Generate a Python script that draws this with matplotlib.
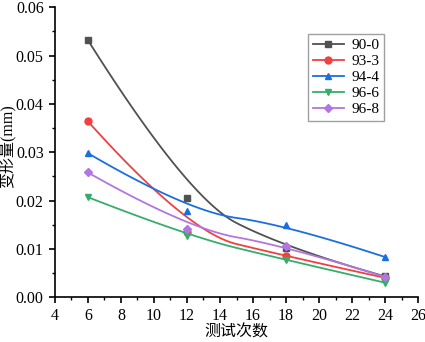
import numpy as np
import matplotlib.pyplot as plt
from matplotlib.ticker import MultipleLocator

x = np.array([6, 12, 18, 24])
s90_0 = [0.0532, 0.0206, 0.0101, 0.0043]
s93_3 = [0.0364, 0.0135, 0.0085, 0.0040]
s94_4 = [0.0298, 0.0178, 0.0150, 0.0083]
s96_6 = [0.0207, 0.0127, 0.0077, 0.0030]
s96_8 = [0.0258, 0.0142, 0.0106, 0.0042]

labels = ['90-0', '93-3', '94-4', '96-6', '96-8']
colors = ['#515151', '#F14040', '#1A6FDF', '#37AD6B', '#B177DE']
markers = ['s', 'o', '^', 'v', 'D']


def bspline2(px, py, n=60):
    # clamped quadratic B-spline, data points used as control points
    P = np.column_stack([px, py]).astype(float)
    segs = []
    m = len(P)
    for i in range(m - 2):
        a = P[i] if i == 0 else (P[i] + P[i + 1]) / 2
        b = P[i + 1]
        c = P[i + 2] if i == m - 3 else (P[i + 1] + P[i + 2]) / 2
        s = np.linspace(0, 1, n)[:, None]
        segs.append((1 - s) ** 2 * a + 2 * s * (1 - s) * b + s ** 2 * c)
    out = np.vstack(segs)
    return out[:, 0], out[:, 1]


plt.rcParams['font.family'] = ['Liberation Serif', 'Noto Sans CJK SC']
plt.rcParams['font.size'] = 11.5

fig = plt.figure(figsize=(4.25, 3.42), dpi=100)
ax = fig.add_axes([0.129, 0.131, 0.855, 0.848])

for ys, lab, c, m in zip([s90_0, s93_3, s94_4, s96_6, s96_8], labels, colors, markers):
    bx, by = bspline2(x, ys)
    ms = 5 if m != 'D' else 4.5
    ax.plot(bx, by, color=c, lw=1.3)
    ax.plot(x, ys, ls='none', marker=m, color=c, ms=ms)
    ax.plot([], [], color=c, lw=1.3, marker=m, ms=ms, label=lab)

ax.set_xlim(4, 26)
ax.set_ylim(0, 0.06)
ax.xaxis.set_major_locator(MultipleLocator(2))
ax.xaxis.set_minor_locator(MultipleLocator(1))
ax.yaxis.set_major_locator(MultipleLocator(0.01))
ax.yaxis.set_minor_locator(MultipleLocator(0.005))
ax.yaxis.set_major_formatter(plt.FuncFormatter(lambda v, p: f'{v:.2f}'))
ax.spines['top'].set_visible(False)
ax.spines['right'].set_visible(False)
ax.spines['left'].set_linewidth(1.2)
ax.spines['bottom'].set_linewidth(1.2)
ax.tick_params(which='major', direction='out', length=4.5, width=1.2)
ax.tick_params(which='minor', direction='out', length=2.5, width=1)

ax.set_xlabel('测试次数', fontsize=11.5, labelpad=0)
ax.set_ylabel('变形量(mm)', fontsize=11.5)
ax.yaxis.set_label_coords(-0.105, 0.52)

leg = ax.legend(loc='upper left', bbox_to_anchor=(0.698, 0.908), frameon=True,
                fancybox=False, edgecolor='#888888', fontsize=11,
                handlelength=2.0, labelspacing=0.15, borderpad=0.3,
                handletextpad=0.5, borderaxespad=0)
leg.get_frame().set_linewidth(1)

fig.savefig('out.png', dpi=100)
